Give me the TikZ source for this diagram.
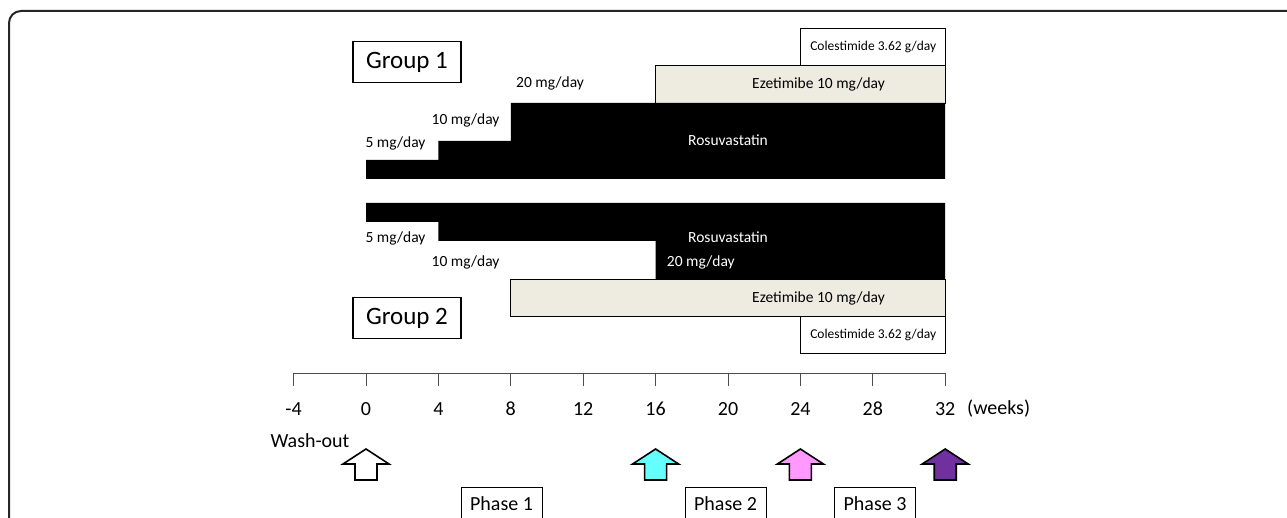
\documentclass[tikz,border=0pt]{standalone}
\usepackage{fontspec}
\setmainfont{Carlito}
\usetikzlibrary{arrows.meta,positioning}
\definecolor{ezefill}{RGB}{238,236,225}
\definecolor{visitcyan}{RGB}{102,255,255}
\definecolor{visitpink}{RGB}{255,153,255}
\definecolor{visitpurple}{RGB}{112,48,160}

\begin{document}
\begin{tikzpicture}[
  x=1pt, y=-1pt,
  lbl/.style     = {font=\fontsize{15.5}{18}\selectfont, inner sep=0pt},
  wlbl/.style    = {lbl, text=white},
  colebox/.style = {
    draw, fill=white, line width=0.9pt,
    minimum width=144.8pt, minimum height=37pt, inner sep=0pt,
    font=\fontsize{13.5}{16}\selectfont
  },
  grpbox/.style  = {
    draw, line width=1.1pt,
    minimum width=108pt, minimum height=41pt, inner sep=0pt,
    font=\fontsize{25}{30}\selectfont
  },
  phasebox/.style = {
    draw, line width=0.9pt,
    minimum width=81pt, minimum height=32pt, inner sep=0pt,
    font=\fontsize{20}{24}\selectfont
  },
  axlbl/.style   = {font=\fontsize{20}{24}\selectfont, inner sep=0pt},
  ezebar/.style  = {draw, fill=ezefill, line width=0.9pt},
  axis/.style    = {draw=black!70, line width=0.9pt},
  visit/.style   = {draw, line width=1.6pt, line join=miter}
]

\clip (0,0) rectangle (1287,518);

% ---- outer frame ----
\draw[line width=2pt, black!85, rounded corners=12pt] (9,530) -- (9,11) -- (1300,11);

% ---- time line in weeks ----
\begin{scope}[shift={(366pt,0pt)}, x=18.1pt]

  % group 1
  \draw[ezebar] (16,65) rectangle (32,103);
  \fill (0,179) -- (0,160) -- (4,160) -- (4,141) -- (8,141) -- (8,103)
        -- (32,103) -- (32,179) -- cycle;
  \node[colebox, anchor=north west] (cole1) at (24,28) {Colestimide 3.62 g/day};
  \node[lbl]  (eze1)  at (25,84)    {Ezetimibe 10 mg/day};
  \node[lbl]  (dosea) at (1.63,143) {5 mg/day};
  \node[lbl]  (doseb) at (5.5,120)  {10 mg/day};
  \node[lbl]  (dosec) at (10.17,83) {20 mg/day};
  \node[wlbl] (rosu1) at (20,140)   {Rosuvastatin};

  % group 2
  \fill (0,203) -- (32,203) -- (32,279) -- (16,279) -- (16,241) -- (4,241)
        -- (4,222) -- (0,222) -- cycle;
  \draw[ezebar] (8,279) rectangle (32,316);
  \node[colebox, anchor=north west] (cole2) at (24,316) {Colestimide 3.62 g/day};
  \node[lbl]  (eze2)  at (25,298)   {Ezetimibe 10 mg/day};
  \node[lbl]  (dosed) at (1.63,238) {5 mg/day};
  \node[lbl]  (dosee) at (5.5,262)  {10 mg/day};
  \node[wlbl] (dosef) at (18.5,262) {20 mg/day};
  \node[wlbl] (rosu2) at (20,237)   {Rosuvastatin};

  % axis
  \draw[axis] (-4,373) -- (32,373);
  \foreach \t in {-4,0,...,32} {
    \draw[axis] (\t,373) -- (\t,386);
    \node[axlbl] (tick\t) at (\t,409) {\t};
  }
\end{scope}

% ---- labels ----
\node[grpbox] (grp1) at (407,62)  {Group 1};
\node[grpbox] (grp2) at (407,318) {Group 2};
\node[axlbl, anchor=west] (weeks) at (967,409) {(weeks)};
\node[axlbl] (wash) at (310,441) {Wash-out};

% ---- visit arrows ----
\foreach \ax/\col in {366/white, 655.6/visitcyan, 800.4/visitpink, 945.2/visitpurple}
  \draw[visit, fill=\col] ({\ax-11},480) -- ({\ax-11},464) -- ({\ax-23},464)
    -- (\ax,449) -- ({\ax+23},464) -- ({\ax+11},464) -- ({\ax+11},480) -- cycle;

% ---- phases ----
\node[phasebox, anchor=north] (ph1) at (501.5,487) {Phase 1};
\node[phasebox, anchor=north] (ph2) at (725.5,487) {Phase 2};
\node[phasebox, anchor=north] (ph3) at (875,487)   {Phase 3};

\end{tikzpicture}
\end{document}
